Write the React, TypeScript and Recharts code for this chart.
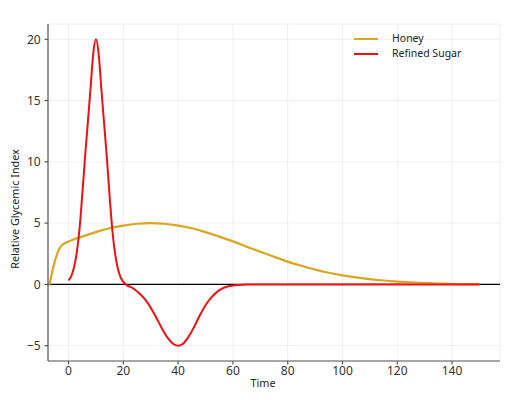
import React from 'react';
import { LineChart, Line, XAxis, YAxis, CartesianGrid, ReferenceLine } from 'recharts';

const honeyTime = [-7, -6, -5, -4, -3, -2, -1, 0, 5, 10, 15, 20, 25, 30, 35, 40, 45, 50, 55, 60, 65, 70, 75, 80, 85, 90, 95, 100, 105, 110, 115, 120, 125, 130, 135, 140, 145, 150];
const honeyValue = [-0.1, 1.0, 1.9, 2.6, 3.05, 3.27, 3.4, 3.5, 3.9, 4.27, 4.58, 4.8, 4.95, 5.0, 4.95, 4.8, 4.58, 4.27, 3.9, 3.51, 3.08, 2.66, 2.25, 1.86, 1.52, 1.21, 0.95, 0.74, 0.57, 0.43, 0.32, 0.23, 0.16, 0.11, 0.07, 0.045, 0.025, 0.015];

const sugarTime = [0, 1, 2, 3, 4, 5, 6, 7, 8, 9, 10, 11, 12, 13, 14, 15, 16, 17, 18, 19, 20, 21, 22, 23, 24, 26, 28, 30, 32, 34, 36, 38, 40, 42, 44, 46, 48, 50, 52, 54, 56, 58, 60, 62, 65, 70, 80, 90, 100, 110, 120, 130, 140, 150];
const sugarValue = [0.33, 0.68, 1.4, 2.6, 4.5, 7.3, 10.3, 13.1, 15.9, 18.8, 20.0, 18.8, 15.9, 13.1, 10.3, 7.2, 4.4, 2.5, 1.3, 0.58, 0.2, -0.02, -0.15, -0.25, -0.4, -0.76, -1.25, -1.9, -2.7, -3.55, -4.3, -4.82, -5.0, -4.8, -4.2, -3.4, -2.5, -1.7, -1.1, -0.65, -0.35, -0.17, -0.08, -0.04, -0.01, 0, 0, 0, 0, 0, 0, 0, 0, 0];

const xTicks = [0, 20, 40, 60, 80, 100, 120, 140];
const yTicks = [-5, 0, 5, 10, 15, 20];

const honeyData = honeyTime.map((t, i) => ({ t, v: honeyValue[i] }));
const sugarData = sugarTime.map((t, i) => ({ t, v: sugarValue[i] }));

const HONEY = '#DAA520';
const SUGAR = '#EE1111';
const AXIS = '#555555';
const fmt = (v: number) => String(v).replace('-', '\u2212');
const tickFont = { fontFamily: 'Noto Sans', fontSize: 12, fill: '#333333' };

export default function App() {
  return (
    <div style={{ position: 'absolute', left: 0, top: 0, width: 507, height: 400, background: '#fff' }}>
      <LineChart width={507} height={400} margin={{ top: 24, right: 7, bottom: 0, left: 0 }}>
        <CartesianGrid stroke="#ececec" strokeWidth={0.8} />
        <XAxis
          type="number"
          dataKey="t"
          domain={[-7.5, 157.5]}
          ticks={xTicks}
          allowDataOverflow
          height={39}
          stroke={AXIS}
          strokeWidth={1.2}
          tickSize={3.5}
          tickMargin={1.5}
          tick={tickFont}
          tickFormatter={fmt}
        />
        <YAxis
          type="number"
          domain={[-6.25, 21.25]}
          ticks={yTicks}
          allowDataOverflow
          width={48}
          stroke={AXIS}
          strokeWidth={1.2}
          tickSize={3.5}
          tickMargin={3.8}
          tick={tickFont}
          tickFormatter={fmt}
        />
        <ReferenceLine y={0} stroke="#000" strokeWidth={1.3} />
        <Line data={honeyData} dataKey="v" type="monotone" stroke={HONEY} strokeWidth={2.2} dot={false} isAnimationActive={false} />
        <Line data={sugarData} dataKey="v" type="monotone" stroke={SUGAR} strokeWidth={2} dot={false} isAnimationActive={false} />
      </LineChart>
      <svg width={507} height={400} style={{ position: 'absolute', left: 0, top: 0, pointerEvents: 'none' }}>
        <text x={14} y={209} transform="rotate(-90 14 209)" textAnchor="middle" dominantBaseline="central" fontFamily="Noto Sans" fontSize={10.8} fill="#222">Relative Glycemic Index</text>
        <text x={263} y={382} textAnchor="middle" dominantBaseline="central" fontFamily="Noto Sans" fontSize={10.8} fill="#222">Time</text>
        <line x1={354} x2={378} y1={39} y2={39} stroke={HONEY} strokeWidth={2} />
        <line x1={354} x2={378} y1={54} y2={54} stroke={SUGAR} strokeWidth={2} />
        <text x={392} y={42} fontFamily="Noto Sans" fontSize={10.5} fill="#222">Honey</text>
        <text x={392} y={56.5} fontFamily="Noto Sans" fontSize={10.5} fill="#222">Refined Sugar</text>
      </svg>
    </div>
  );
}
